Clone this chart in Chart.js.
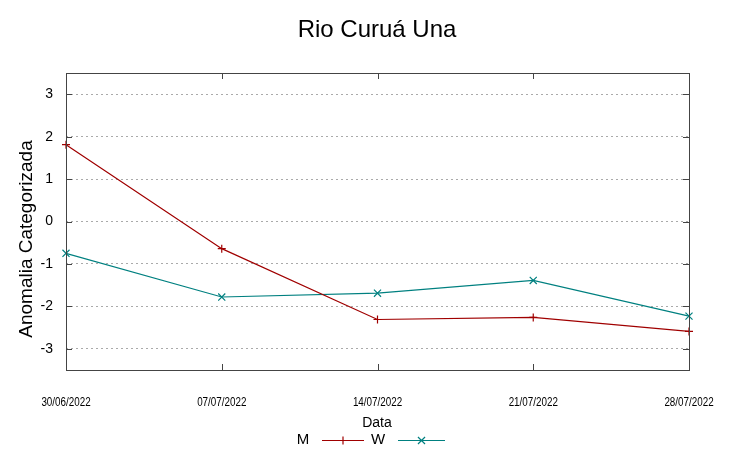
<!DOCTYPE html>
<html>
<head>
<meta charset="utf-8">
<script src="https://cdn.jsdelivr.net/npm/chart.js@4"></script>
<style>
  html, body { margin: 0; padding: 0; background: #fff; }
  #wrap { width: 752px; height: 459px; }
</style>
</head>
<body>
<div id="wrap"><canvas id="c" width="752" height="459"></canvas></div>
<script>
// data
var dates = ['30/06/2022', '07/07/2022', '14/07/2022', '21/07/2022', '28/07/2022'];
var mValues = [1.81, -0.64, -2.31, -2.26, -2.59];
var wValues = [-0.75, -1.78, -1.69, -1.39, -2.23];
var yTicks = [-3, -2, -1, 0, 1, 2, 3];

var FONT = "'Liberation Sans', Arial, sans-serif";
var M_COLOR = '#a00000';
var W_COLOR = '#008080';

// title, frame, inward ticks, axis labels and gnuplot-like legend
var decor = {
  id: 'decor',
  afterDatasetsDraw: function(chart) {
    var ctx = chart.ctx, a = chart.chartArea;
    var xs = chart.scales.x, ys = chart.scales.y;
    ctx.save();
    ctx.strokeStyle = '#444';
    ctx.lineWidth = 1;
    ctx.strokeRect(Math.round(a.left) + 0.5, Math.round(a.top) + 0.5,
                   Math.round(a.right - a.left), Math.round(a.bottom - a.top));
    ctx.beginPath();
    yTicks.forEach(function(v) {
      var y = Math.round(ys.getPixelForValue(v)) + 0.5;
      ctx.moveTo(a.left, y); ctx.lineTo(a.left + 6, y);
      ctx.moveTo(a.right, y); ctx.lineTo(a.right - 6, y);
    });
    dates.forEach(function(d, i) {
      var x = Math.round(xs.getPixelForValue(i)) + 0.5;
      ctx.moveTo(x, a.bottom); ctx.lineTo(x, a.bottom - 6);
      ctx.moveTo(x, a.top); ctx.lineTo(x, a.top + 6);
    });
    ctx.stroke();

    ctx.fillStyle = '#000';
    ctx.textAlign = 'center';
    ctx.textBaseline = 'middle';

    // condensed date labels (gnuplot narrow font look)
    ctx.font = '12px ' + FONT;
    dates.forEach(function(d, i) {
      ctx.save();
      ctx.translate(xs.getPixelForValue(i), 403);
      ctx.scale(0.82, 1);
      ctx.fillText(d, 0, 0);
      ctx.restore();
    });

    ctx.font = '24px ' + FONT;
    ctx.fillText('Rio Curuá Una', 377, 30);
    ctx.font = '14px ' + FONT;
    ctx.fillText('Data', 377, 423);

    ctx.save();
    ctx.translate(27, 239);
    ctx.rotate(-Math.PI / 2);
    ctx.font = '19px ' + FONT;
    ctx.fillText('Anomalia Categorizada', 0, 0);
    ctx.restore();

    // legend
    var ly = 440;
    var entries = [
      { label: 'M', tx: 303, x0: 322, x1: 364, ds: 0 },
      { label: 'W', tx: 378, x0: 398, x1: 445, ds: 1 }
    ];
    entries.forEach(function(e) {
      var ds = chart.data.datasets[e.ds];
      ctx.fillStyle = '#000';
      ctx.font = '15px ' + FONT;
      ctx.fillText(e.label, e.tx, ly);
      ctx.strokeStyle = ds.borderColor;
      ctx.lineWidth = 1.2;
      ctx.beginPath();
      ctx.moveTo(e.x0, ly + 0.5); ctx.lineTo(e.x1, ly + 0.5);
      ctx.stroke();
      Chart.helpers.drawPoint(ctx, {
        pointStyle: ds.pointStyle, radius: ds.pointRadius, borderWidth: 1
      }, (e.x0 + e.x1) / 2, ly + 0.5);
    });
    ctx.restore();
  }
};

new Chart(document.getElementById('c'), {
  type: 'line',
  data: {
    labels: dates,
    datasets: [
      {
        label: 'M',
        data: mValues,
        borderColor: M_COLOR,
        backgroundColor: M_COLOR,
        pointBorderColor: M_COLOR,
        borderWidth: 1.2,
        pointStyle: 'cross',
        pointRadius: 4,
        pointBorderWidth: 1.2,
        tension: 0
      },
      {
        label: 'W',
        data: wValues,
        borderColor: W_COLOR,
        backgroundColor: W_COLOR,
        pointBorderColor: W_COLOR,
        borderWidth: 1.2,
        pointStyle: 'crossRot',
        pointRadius: 5,
        pointBorderWidth: 1.2,
        tension: 0
      }
    ]
  },
  options: {
    responsive: false,
    animation: false,
    layout: { padding: { top: 73, right: 63, left: 0, bottom: 0 } },
    plugins: {
      legend: { display: false },
      title: { display: false },
      tooltip: { enabled: false }
    },
    scales: {
      x: {
        offset: false,
        grid: { display: false, drawTicks: false },
        border: { display: false },
        ticks: { display: false },
        afterFit: function(scale) { scale.height = 89; }
      },
      y: {
        min: -3.5,
        max: 3.5,
        afterBuildTicks: function(scale) {
          scale.ticks = yTicks.map(function(v) { return { value: v }; });
        },
        grid: { color: '#aaa', lineWidth: 1, drawTicks: false },
        border: { display: false, dash: [2, 3] },
        ticks: {
          color: '#000',
          font: { family: FONT, size: 14 },
          padding: 13
        },
        afterFit: function(scale) { scale.width = 66; }
      }
    }
  },
  plugins: [decor]
});
</script>
</body>
</html>
